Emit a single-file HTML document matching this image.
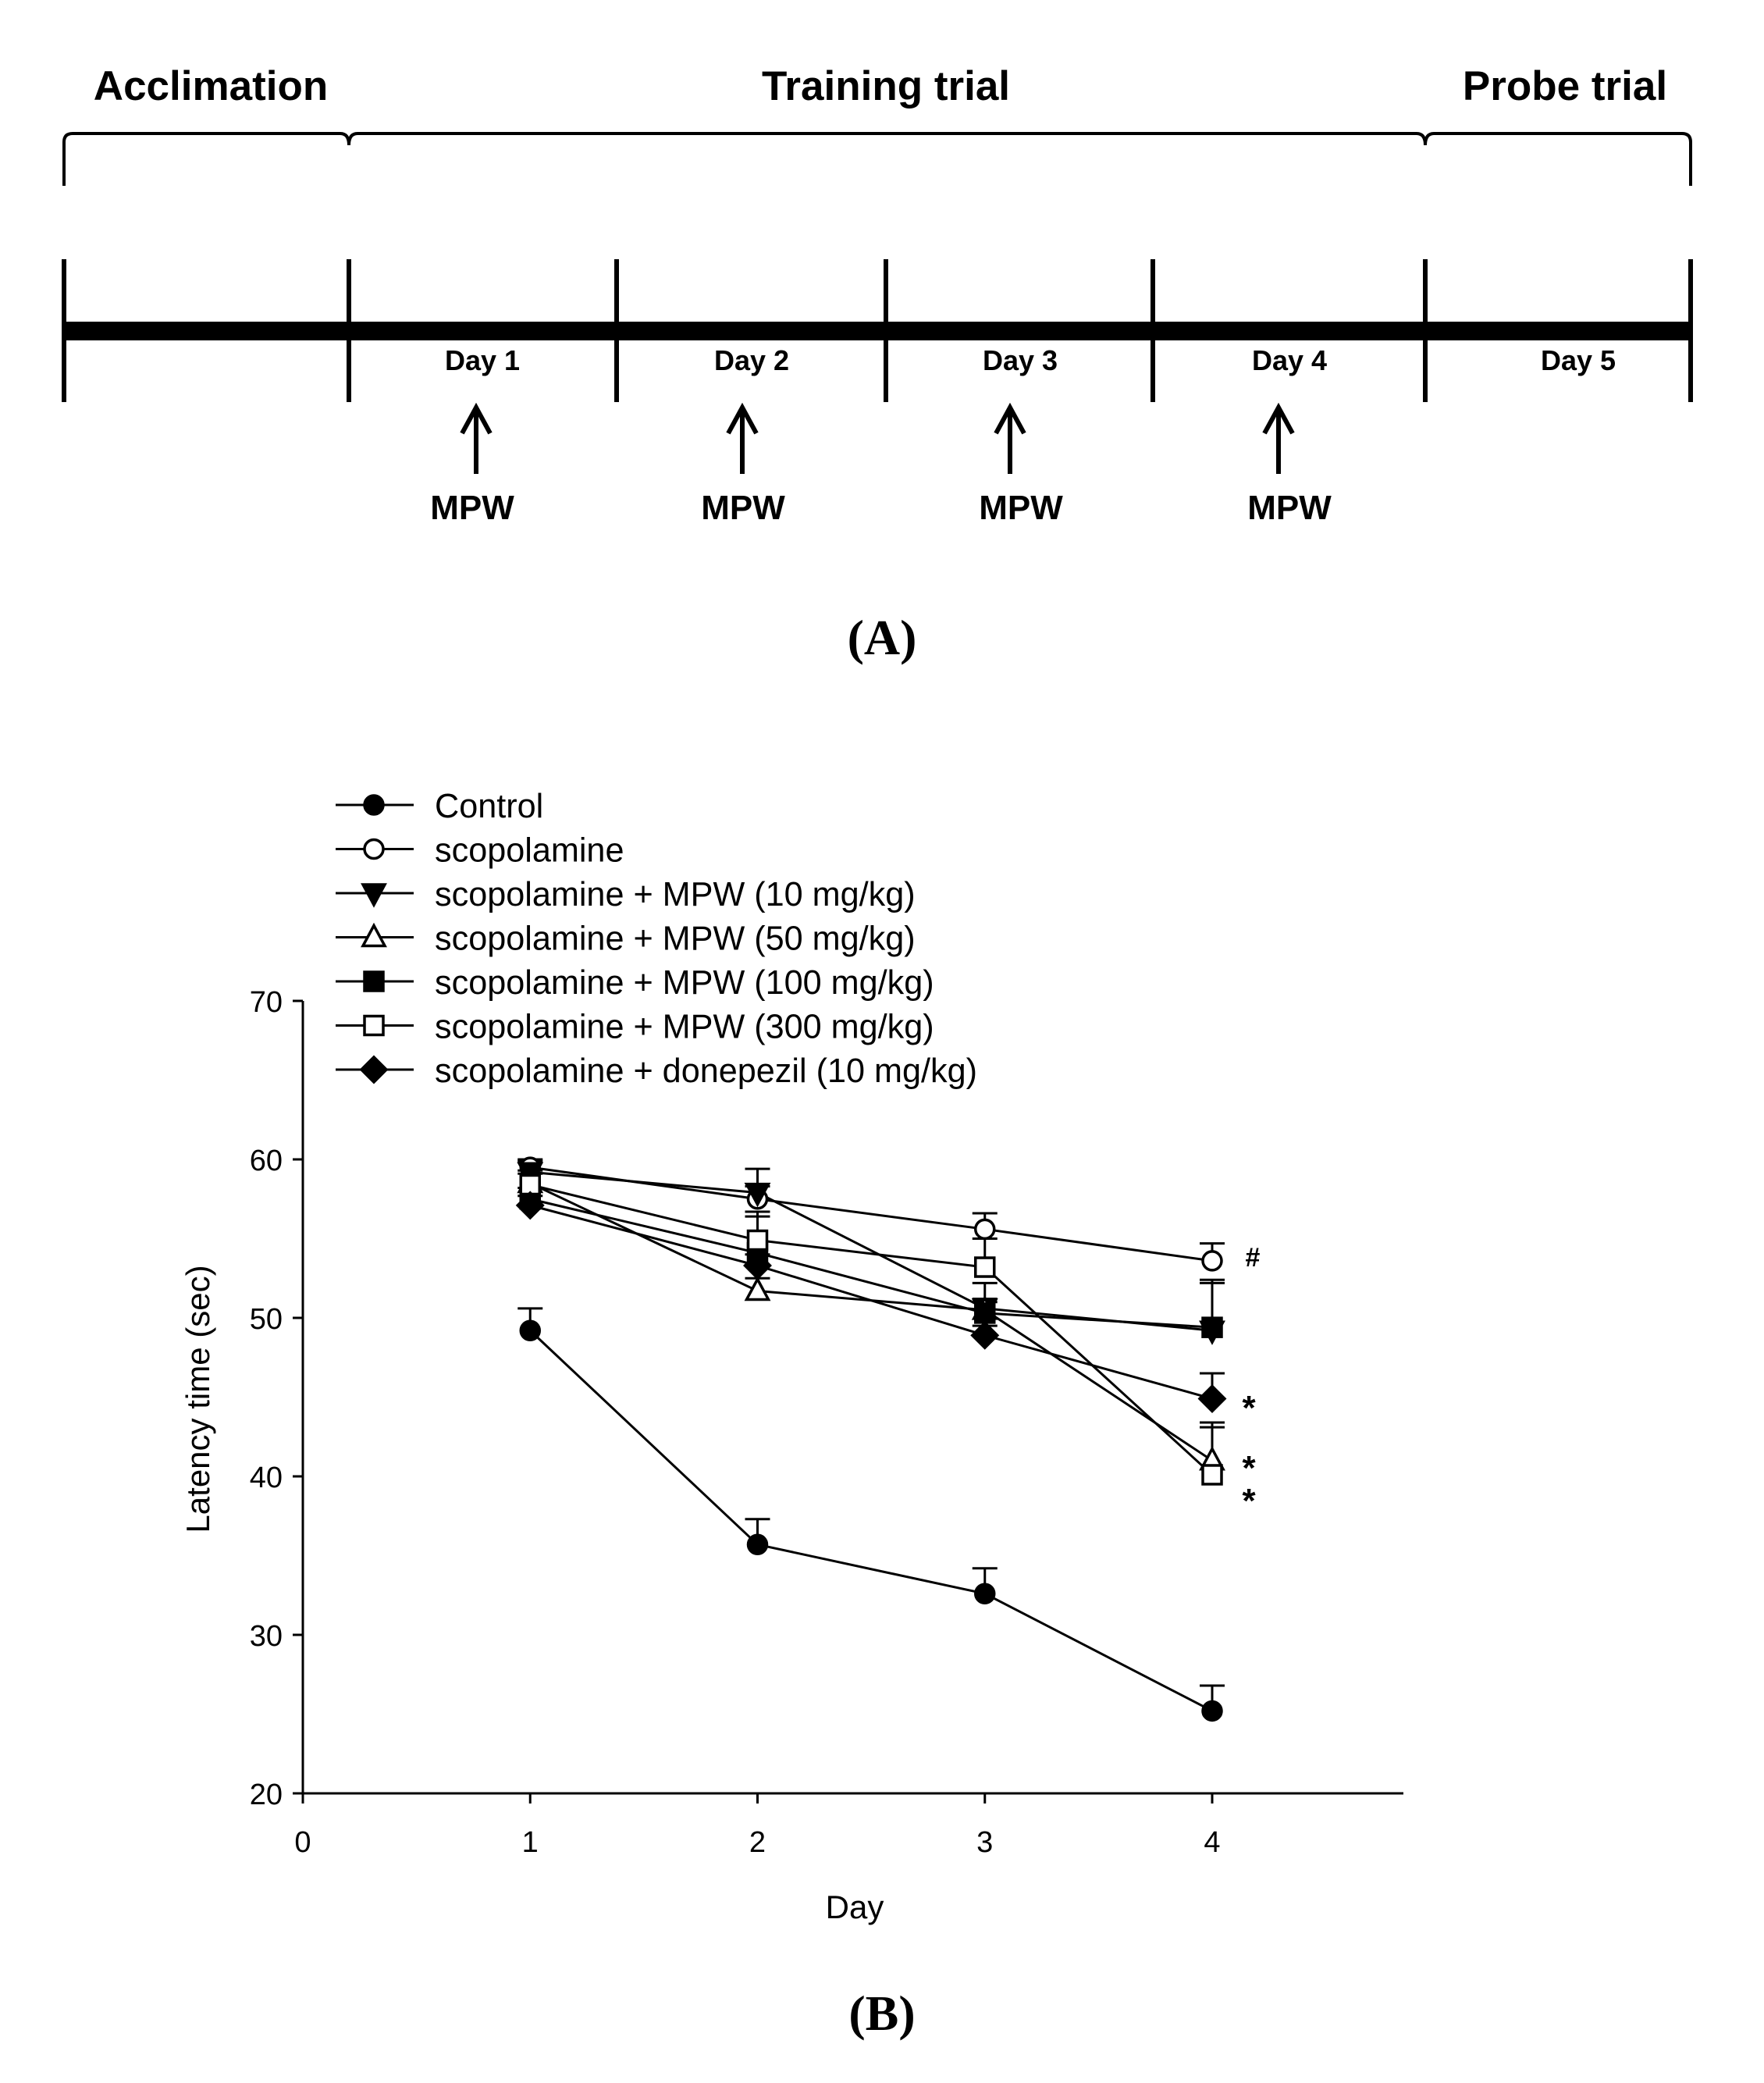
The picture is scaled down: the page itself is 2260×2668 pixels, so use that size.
<!DOCTYPE html>
<html><head><meta charset="utf-8"><style>
html,body{margin:0;padding:0;background:#fff}
svg{display:block}
</style></head><body>
<svg id="s" xmlns="http://www.w3.org/2000/svg" width="2260" height="2668" viewBox="0 0 2260 2668">
<rect width="2260" height="2668" fill="#fff"/>
<g font-family="Liberation Sans, DejaVu Sans, sans-serif" font-weight="bold" font-size="53" text-anchor="middle" fill="#000">
<text x="270" y="128">Acclimation</text>
<text x="1135" y="128">Training trial</text>
<text x="2005" y="128">Probe trial</text>
</g>
<g fill="none" stroke="#000" stroke-width="4">
<path d="M82,238 V182 Q82,171 93,171 H436 Q447,171 447,186 Q447,171 458,171 H1815 Q1826,171 1826,186 Q1826,171 1837,171 H2155 Q2166,171 2166,182 V238"/>
</g>
<rect x="82" y="412" width="2084" height="24" fill="#000"/>
<g stroke="#000" stroke-width="6">
<line x1="82" y1="332" x2="82" y2="515"/><line x1="447" y1="332" x2="447" y2="515"/>
<line x1="790" y1="332" x2="790" y2="515"/><line x1="1135" y1="332" x2="1135" y2="515"/>
<line x1="1477" y1="332" x2="1477" y2="515"/><line x1="1826" y1="332" x2="1826" y2="515"/>
<line x1="2166" y1="332" x2="2166" y2="515"/>
</g>
<g font-family="Liberation Sans, DejaVu Sans, sans-serif" font-weight="bold" font-size="36" text-anchor="middle">
<text x="618" y="474">Day 1</text><text x="963" y="474">Day 2</text><text x="1307" y="474">Day 3</text>
<text x="1652" y="474">Day 4</text><text x="2022" y="474">Day 5</text>
</g>
<g stroke="#000" stroke-width="6" fill="none">
<path d="M610,607 V525 M592,555 L610,522 L628,555"/>
<path d="M951,607 V525 M933,555 L951,522 L969,555"/>
<path d="M1294,607 V525 M1276,555 L1294,522 L1312,555"/>
<path d="M1638,607 V525 M1620,555 L1638,522 L1656,555"/>
</g>
<g font-family="Liberation Sans, DejaVu Sans, sans-serif" font-weight="bold" font-size="44" text-anchor="middle">
<text x="605" y="665">MPW</text><text x="952" y="665">MPW</text><text x="1308" y="665">MPW</text><text x="1652" y="665">MPW</text>
</g>
<text x="1130" y="838" font-family="Liberation Serif, serif" font-weight="bold" font-size="64" text-anchor="middle">(A)</text>
<text x="1130" y="2600" font-family="Liberation Serif, serif" font-weight="bold" font-size="64" text-anchor="middle">(B)</text>
<g id="chart"></g>
</svg>
<script>
var NS="http://www.w3.org/2000/svg",g=document.getElementById("chart");
function el(t,a,p){var e=document.createElementNS(NS,t);for(var k in a)e.setAttribute(k,a[k]);(p||g).appendChild(e);return e;}
function X(d){return 388+291.25*d}function Y(v){return 2297-(v-20)*20.3}
var F="Liberation Sans, DejaVu Sans, sans-serif";
el("path",{d:"M388,1282 V2297 H1798",stroke:"#000","stroke-width":3,fill:"none"});
for(var v=20;v<=70;v+=10){el("line",{x1:375,x2:388,y1:Y(v),y2:Y(v),stroke:"#000","stroke-width":3});
var t=el("text",{x:362,y:Y(v)+14,"font-family":F,"font-size":38,"text-anchor":"end"});t.textContent=v;}
for(var d=0;d<=4;d++){el("line",{x1:X(d),x2:X(d),y1:2297,y2:2310,stroke:"#000","stroke-width":3});
var t=el("text",{x:X(d),y:2372,"font-family":F,"font-size":38,"text-anchor":"middle"});t.textContent=d;}
var t=el("text",{x:1095,y:2457,"font-family":F,"font-size":42,"text-anchor":"middle"});t.textContent="Day";
t=el("text",{x:0,y:0,"font-family":F,"font-size":42,"text-anchor":"middle",transform:"translate(268,1792) rotate(-90)"});t.textContent="Latency time (sec)";
function mk(type,x,y,p){var r=12,f=(type.indexOf("o")==0)?"#fff":"#000",s={stroke:"#000","stroke-width":3.5,fill:f};
var a;if(type=="fc"||type=="oc"){a={cx:x,cy:y,r:r};for(var k in s)a[k]=s[k];el("circle",a,p);}
else if(type=="fs"||type=="os"){a={x:x-r,y:y-r,width:2*r,height:2*r};for(var k in s)a[k]=s[k];el("rect",a,p);}
else if(type=="ft"){a={points:(x-14)+","+(y-11)+" "+(x+14)+","+(y-11)+" "+x+","+(y+15)};for(var k in s)a[k]=s[k];el("polygon",a,p);}
else if(type=="ot"){a={points:(x-14)+","+(y+11)+" "+(x+14)+","+(y+11)+" "+x+","+(y-15)};for(var k in s)a[k]=s[k];el("polygon",a,p);}
else if(type=="fd"){a={points:x+","+(y-16)+" "+(x+16)+","+y+" "+x+","+(y+16)+" "+(x-16)+","+y};for(var k in s)a[k]=s[k];el("polygon",a,p);}}
var S=[
["fc",[49.2,35.7,32.6,25.2],[50.6,37.3,34.2,26.8],"Control"],
["oc",[59.5,57.5,55.6,53.6],[60,58.3,56.6,54.7],"scopolamine"],
["ft",[59.2,57.9,50.6,49.2],[59.9,59.4,52.2,52.4],"scopolamine + MPW (10 mg/kg)"],
["ot",[58.5,51.7,50.5,41.0],[59.3,52.5,51.2,43.4],"scopolamine + MPW (50 mg/kg)"],
["fs",[57.5,54.1,50.3,49.4],[58.2,56.4,51.0,52.2],"scopolamine + MPW (100 mg/kg)"],
["os",[58.4,54.9,53.2,40.1],[59.1,56.7,55.0,43.1],"scopolamine + MPW (300 mg/kg)"],
["fd",[57.1,53.3,48.9,44.9],[57.7,54.0,49.5,46.5],"scopolamine + donepezil (10 mg/kg)"]];
var eg=el("g",{}),lg=el("g",{}),mg=el("g",{});
S.forEach(function(s){var pts=s[1].map(function(v,i){return X(i+1)+","+Y(v)}).join(" ");
el("polyline",{points:pts,fill:"none",stroke:"#000","stroke-width":3},lg);
s[1].forEach(function(v,i){if(s[2][i]>v+0.3){var x=X(i+1);el("path",{d:"M"+x+","+Y(v)+" V"+Y(s[2][i])+" M"+(x-16)+","+Y(s[2][i])+" H"+(x+16),stroke:"#000","stroke-width":3},eg);}
mk(s[0],X(i+1),Y(v),mg);});});
S.forEach(function(s,i){var y=1031+i*56.5;el("line",{x1:430,x2:530,y1:y,y2:y,stroke:"#000","stroke-width":3});mk(s[0],479,y);
var t=el("text",{x:557,y:y+16,"font-family":F,"font-size":43.2});t.textContent=s[3];});
[["#",1605,1622,34],["*",1600,1818,44],["*",1600,1895,44],["*",1600,1937,44]].forEach(function(a){var t=el("text",{x:a[1],y:a[2],"font-family":F,"font-size":a[3],"font-weight":"bold","text-anchor":"middle"});t.textContent=a[0];});
</script>
</body></html>
